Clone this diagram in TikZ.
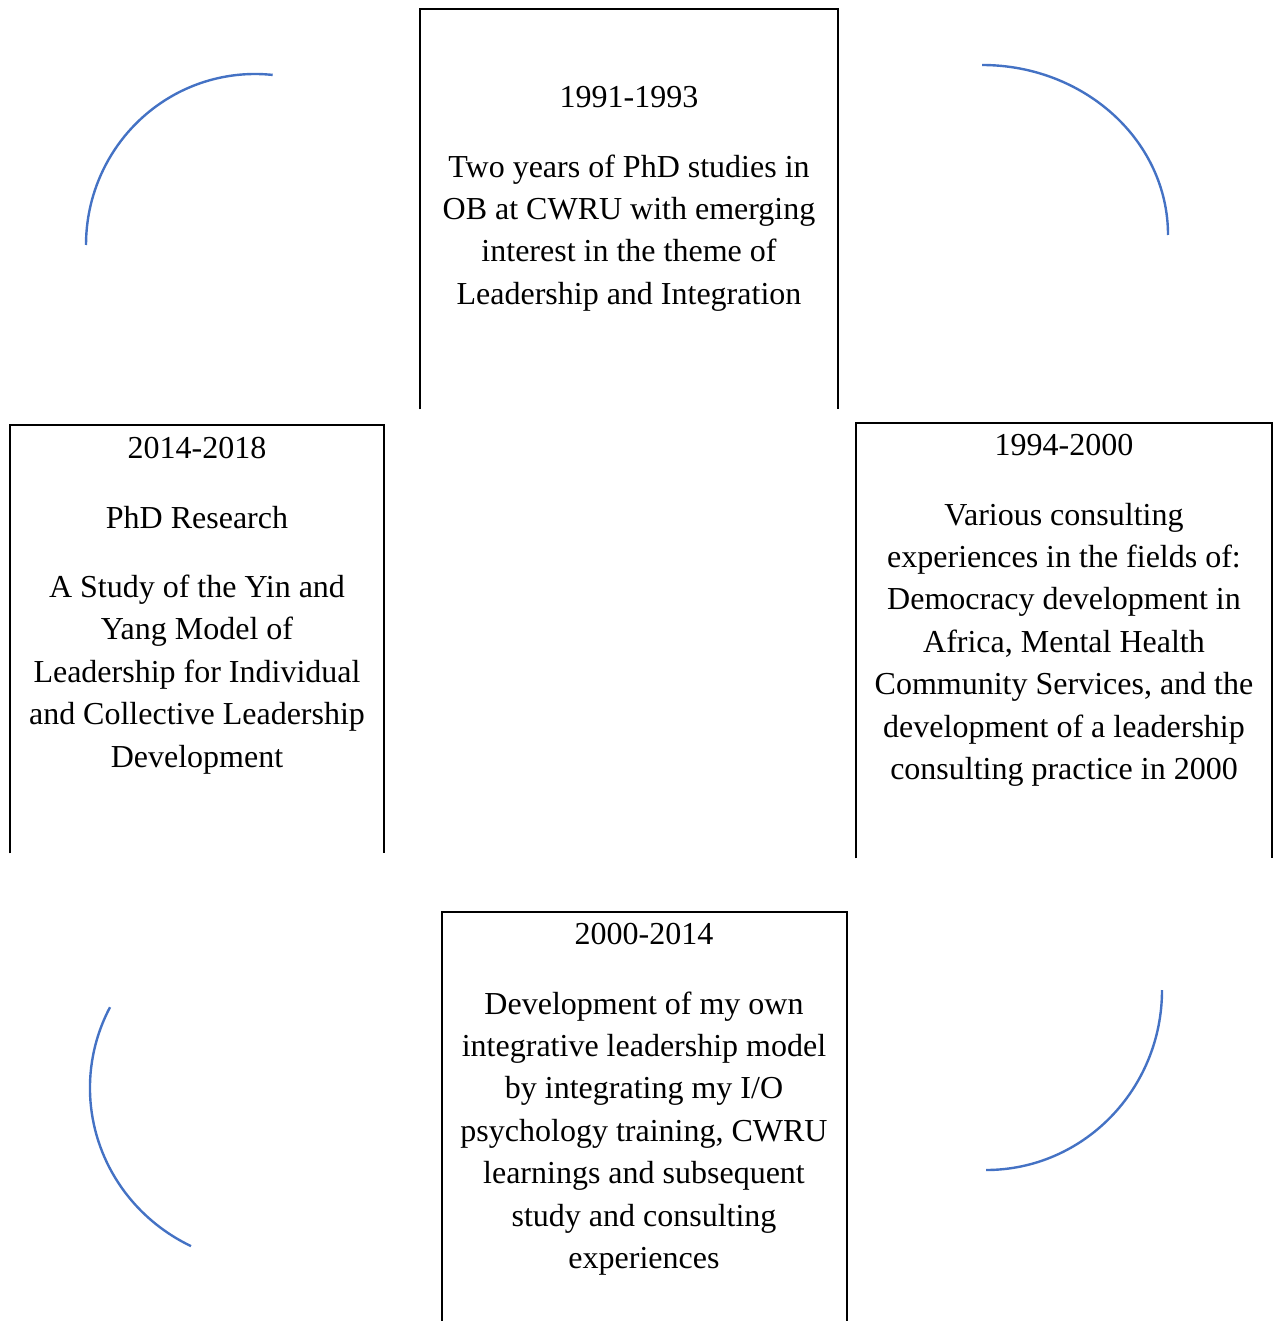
\documentclass[tikz,border=0pt]{standalone}
\usepackage{fontspec}
\setmainfont{Liberation Serif}
\definecolor{arcblue}{HTML}{4472C4}
\begin{document}
\begin{tikzpicture}[x=1pt,y=1pt,
  area/.style={rectangle, draw=none, inner sep=0pt, anchor=north west},
  frame/.style={draw=black, line width=2pt},
  txt/.style={anchor=north, align=flush center, inner sep=0pt, text width=#1,
    font=\fontsize{32}{42.4}\selectfont},
  arcline/.style={draw=arcblue, line width=2.4pt}]
\useasboundingbox (0,0) rectangle (1277,-1321);

% box areas (open at the bottom)
\node[area, minimum width=418pt, minimum height=400pt] (b1) at (420,-9) {};
\node[area, minimum width=416pt, minimum height=435pt] (b2) at (856,-423) {};
\node[area, minimum width=405pt, minimum height=435pt] (b3) at (442,-912) {};
\node[area, minimum width=374pt, minimum height=428pt] (b4) at (10,-425) {};

\draw[frame] (b1.south west) |- (b1.north east) -- (b1.south east);
\draw[frame] (b2.south west) |- (b2.north east) -- (b2.south east);
\draw[frame] (b3.south west) |- (b3.north east) -- (b3.south east);
\draw[frame] (b4.south west) |- (b4.north east) -- (b4.south east);

% texts
\node[txt=400pt] (t1) at (629,-77.75) {\strut 1991-1993\\[27pt]
  Two years of PhD studies in\\ OB at CWRU with emerging\\ interest in the theme of\\ Leadership and Integration};
\node[txt=410pt] (t2) at (1064,-425.75) {\strut 1994-2000\\[27pt]
  Various consulting\\ experiences in the fields of:\\ Democracy development in\\ Africa, Mental Health\\ Community Services, and the\\ development of a leadership\\ consulting practice in 2000};
\node[txt=400pt] (t3) at (644,-914.75) {\strut 2000-2014\\[27pt]
  Development of my own\\ integrative leadership model\\ by integrating my I/O\\ psychology training, CWRU\\ learnings and subsequent\\ study and consulting\\ experiences};
\node[txt=370pt] (t4) at (197,-428.75) {\strut 2014-2018\\[27pt]
  PhD Research\\[27pt]
  A Study of the Yin and\\ Yang Model of\\ Leadership for Individual\\ and Collective Leadership\\ Development};

% decorative arcs
\coordinate (a1) at (86,-245);
\coordinate (a2) at (982,-65);
\coordinate (a3) at (1162,-990);
\coordinate (a4) at (110,-1007.2);
\draw[arcline] (a1) arc[start angle=180, end angle=84, x radius=169, y radius=171];
\draw[arcline] (a2) arc[start angle=90, end angle=0, x radius=186, y radius=170];
\draw[arcline] (a3) arc[start angle=0, end angle=-90, x radius=176, y radius=180];
\draw[arcline] (a4) arc[start angle=152.7, end angle=244, x radius=180, y radius=176];
\end{tikzpicture}
\end{document}
